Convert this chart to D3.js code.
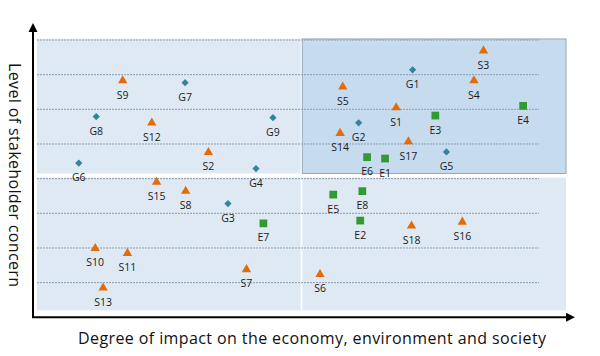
<!DOCTYPE html>
<html>
<head>
<meta charset="utf-8">
<script src="https://cdn.jsdelivr.net/npm/d3@7"></script>
<style>
  html, body { margin: 0; padding: 0; background: #ffffff; }
  svg { display: block; }
</style>
</head>
<body>
<svg id="chart" width="600" height="356"></svg>
<script>
// ---- Data ----
const socialLabels = ["S1","S2","S3","S4","S5","S6","S7","S8","S9","S10","S11","S12","S13","S14","S15","S16","S17","S18"];
const socialImpact = [6.79,3.24,8.44,8.26,5.78,5.35,3.96,2.81,1.62,1.10,1.71,2.17,1.25,5.73,2.26,8.04,7.02,7.08];
const socialConcern = [6.05,4.76,7.69,6.83,6.65,1.24,1.38,3.64,6.83,1.99,1.85,5.61,0.85,5.31,3.90,2.75,5.07,2.64];

const govLabels = ["G1","G2","G3","G4","G5","G6","G7","G8","G9"];
const govImpact = [7.10,6.08,3.61,4.14,7.74,0.79,2.80,1.12,4.46];
const govConcern = [7.14,5.61,3.28,4.29,4.77,4.45,6.77,5.79,5.76];

const envLabels = ["E1","E2","E3","E4","E5","E6","E7","E8"];
const envImpact = [6.58,6.11,7.53,9.19,5.60,6.24,4.28,6.15];
const envConcern = [4.58,2.79,5.82,6.10,3.54,4.62,2.71,3.64];

const gridLevels = [1,2,3,4,5,6,7,8];
const xTitle = "Degree of impact on the economy, environment and society";
const yTitle = "Level of stakeholder concern";

// ---- Scales ----
const x = d3.scaleLinear().domain([0, 10]).range([37, 566]);
const y = d3.scaleLinear().domain([0, 8]).range([317.3, 40]);

const svg = d3.select("#chart");

// ---- Quadrant panels ----
const xMid = 5;
const panels = [
  {x0: 0, x1: xMid - 0.015, y0: 8.03, y1: 4.15, fill: "#dfe9f4", stroke: "none"},
  {x0: xMid + 0.015, x1: 10, y0: 4.03, y1: 0.2, fill: "#dfe9f4", stroke: "none"},
  {x0: 0, x1: xMid - 0.015, y0: 4.03, y1: 0.2, fill: "#dfe9f4", stroke: "none"},
  {x0: xMid + 0.015, x1: 10, y0: 8.03, y1: 4.15, fill: "#c6dbee", stroke: "#93a7ba"}
];
svg.append("g").selectAll("rect").data(panels).join("rect")
  .attr("x", d => x(d.x0))
  .attr("y", d => y(d.y0))
  .attr("width", d => x(d.x1) - x(d.x0))
  .attr("height", d => y(d.y1) - y(d.y0))
  .attr("fill", d => d.fill)
  .attr("stroke", d => d.stroke)
  .attr("stroke-width", 1);

// ---- Dotted grid lines ----
svg.append("g").selectAll("line").data(gridLevels).join("line")
  .attr("x1", x(0)).attr("x2", x(9.49))
  .attr("y1", d => y(d)).attr("y2", d => y(d))
  .attr("stroke", "#8a9cb3")
  .attr("stroke-width", 1)
  .attr("stroke-dasharray", "2,1");

// ---- Axes with arrows ----
const axisG = svg.append("g");
axisG.append("line")
  .attr("x1", 33).attr("y1", y(0)).attr("x2", 33).attr("y2", 30)
  .attr("stroke", "#000").attr("stroke-width", 2);
axisG.append("path")
  .attr("d", `M28.5,32 L33,23 L37.5,32 Z`).attr("fill", "#000");
axisG.append("line")
  .attr("x1", 32).attr("y1", y(0)).attr("x2", 568).attr("y2", y(0))
  .attr("stroke", "#000").attr("stroke-width", 2);
axisG.append("path")
  .attr("d", `M566,${y(0) - 4.5} L575,${y(0)} L566,${y(0) + 4.5} Z`).attr("fill", "#000");

// ---- Axis titles ----
svg.append("text")
  .attr("x", 312).attr("y", 344)
  .attr("text-anchor", "middle")
  .attr("font-family", "'Open Sans', 'Noto Sans', sans-serif")
  .attr("font-size", 16)
  .attr("textLength", 468)
  .attr("lengthAdjust", "spacing")
  .attr("fill", "#111")
  .text(xTitle);

svg.append("text")
  .attr("transform", "translate(9,175) rotate(90)")
  .attr("text-anchor", "middle")
  .attr("font-family", "'Open Sans', 'Noto Sans', sans-serif")
  .attr("font-size", 16)
  .attr("textLength", 224)
  .attr("lengthAdjust", "spacing")
  .attr("fill", "#111")
  .text(yTitle);

// ---- Points ----
function build(labels, xs, ys) {
  return labels.map((l, i) => ({label: l, x: xs[i], y: ys[i]}));
}
const series = [
  {data: build(socialLabels, socialImpact, socialConcern), symbol: d3.symbolTriangle, size: 38, color: "#e36c0a", rotate: 0},
  {data: build(govLabels, govImpact, govConcern), symbol: d3.symbolSquare, size: 26, color: "#31849b", rotate: 45},
  {data: build(envLabels, envImpact, envConcern), symbol: d3.symbolSquare, size: 60, color: "#339933", rotate: 0}
];

series.forEach(s => {
  const g = svg.append("g");
  g.selectAll("path").data(s.data).join("path")
    .attr("d", d3.symbol().type(s.symbol).size(s.size))
    .attr("transform", d => `translate(${x(d.x)},${y(d.y)}) rotate(${s.rotate})`)
    .attr("fill", s.color);
  g.selectAll("text").data(s.data).join("text")
    .attr("x", d => x(d.x))
    .attr("y", d => y(d.y) + 18)
    .attr("text-anchor", "middle")
    .attr("font-family", "'Open Sans', 'Noto Sans', sans-serif")
    .attr("font-size", 10.5)
    .attr("fill", "#1a1a1a")
    .text(d => d.label);
});
</script>
</body>
</html>
